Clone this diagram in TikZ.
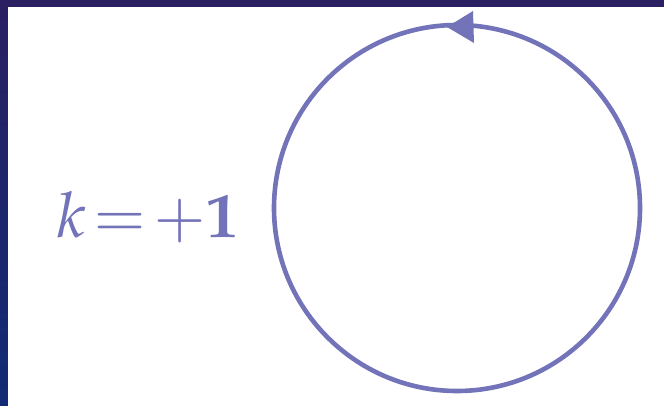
\documentclass[tikz,border=0pt]{standalone}
\usepackage{mathpazo}
\usetikzlibrary{shapes.geometric}
\definecolor{loopblue}{HTML}{7373B9}
\definecolor{bgtop}{HTML}{2A2062}
\definecolor{bgbot}{HTML}{112B74}
\tikzset{
  loopline/.style={draw=loopblue, line width=4.6pt},
  label/.style={text=loopblue, inner sep=0pt, anchor=base},
}
\begin{document}
\begin{tikzpicture}[x=1pt,y=-1pt]
\useasboundingbox (0,0) rectangle (664,406);
\shade[top color=bgtop, bottom color=bgbot] (0,0) rectangle (664,406);
\fill[white] (8,7) rectangle (664,406);
\node[loopline, circle, minimum size=366pt, inner sep=0pt] (loop) at (457,208) {};
\fill[loopblue] (447,27) -- (473,11) -- (474,43) -- cycle;
\node[label] (k) at (148,237) {\fontsize{63}{75}\selectfont $k\!=\!+\mathbf{1}$};
\end{tikzpicture}
\end{document}
